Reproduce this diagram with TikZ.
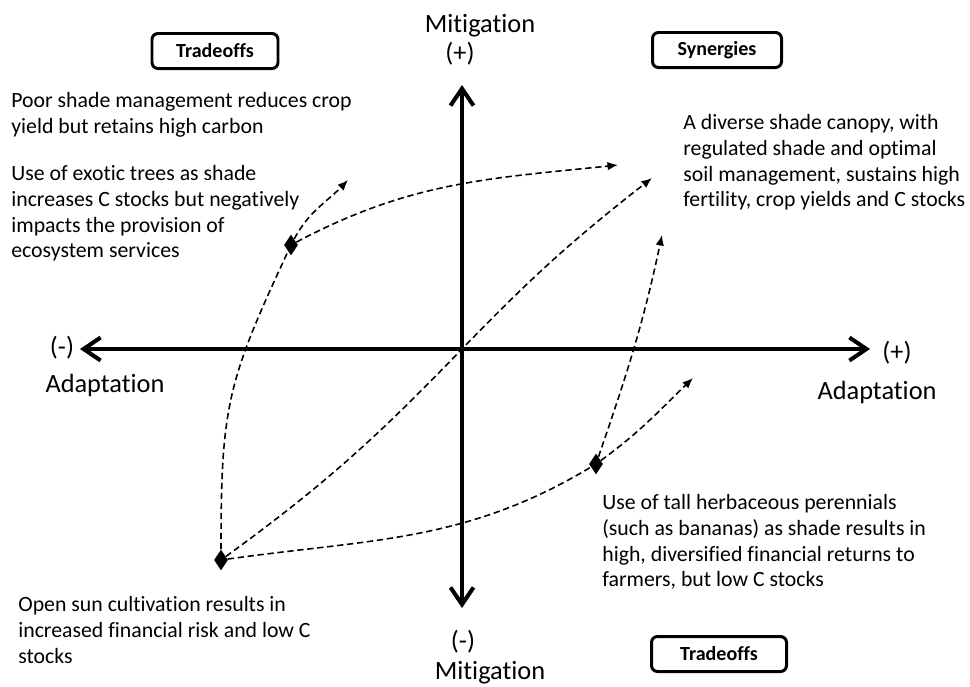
\documentclass[tikz,border=0pt]{standalone}
\usepackage{fontspec}
\setmainfont{Carlito}[RawFeature={-liga}]
\usetikzlibrary{arrows.meta,shapes.geometric}

\begin{document}
\begin{tikzpicture}[x={(0.2mm, 0mm)}, y={(0mm, 0.2mm)}]
  \tikzstyle{axis}=[line width=2.3pt, {Straight Barb[length=3.4mm, width=4.6mm]}-{Straight Barb[length=3.4mm, width=4.6mm]}]
  \tikzstyle{link}=[line width=0.9pt, dash pattern=on 3.6pt off 2.1pt, -{Latex[length=2.1mm, width=1.7mm]}]
  \tikzstyle{dmd}=[diamond, fill=black, inner sep=0pt, minimum width=2.8mm, minimum height=4.2mm]
  \tikzstyle{quad}=[draw, line width=1.7pt, rounded corners=1.2mm, minimum height=7mm, font=\fontsize{11.4}{13}\selectfont\bfseries]
  \tikzstyle{note}=[align=left, inner sep=0pt, anchor=north west, font=\fontsize{12.4}{14.7}\selectfont]
  \tikzstyle{axlab}=[inner sep=0pt, font=\fontsize{15}{18}\selectfont]

\useasboundingbox (0,0) rectangle (970,-686);

\coordinate (o) at (462,-349);
\coordinate (west) at (80,-349);
\coordinate (east) at (870,-349);
\coordinate (north) at (462,-85);
\coordinate (south) at (462,-608);
\draw[axis] (west) -- (east);
\draw[axis] (south) -- (north);

\node[axlab, anchor=base] (mtop) at (480,-32) {Mitigation};
\node[axlab, anchor=base] (ptop) at (460,-61) {(+)};
\node[axlab, anchor=base] (nbot) at (463,-649) {(-)};
\node[axlab, anchor=base] (mbot) at (490,-679) {Mitigation};
\node[axlab] (nleft) at (62,-348) {(-)};
\node[axlab] (aleft) at (105,-385) {Adaptation};
\node[axlab] (pright) at (897,-353) {(+)};
\node[axlab] (aright) at (877,-392) {Adaptation};

\node[quad, minimum width=25.2mm] (trade1) at (215,-51) {Tradeoffs};
\node[quad, minimum width=25.8mm] (syn) at (717,-50) {Synergies};
\node[quad, minimum width=27mm] (trade2) at (719,-654) {Tradeoffs};

\node[note] (poor) at (11,-92) {Poor shade management reduces crop\\yield but retains high carbon};
\node[note] (exotic) at (11,-165) {Use of exotic trees as shade\\increases C stocks but negatively\\impacts the provision of\\ecosystem services};
\node[note] (diverse) at (683,-114) {A diverse shade canopy, with\\regulated shade and optimal\\soil management, sustains high\\fertility, crop yields and C stocks};
\node[note] (tall) at (602,-494) {Use of tall herbaceous perennials\\(such as bananas) as shade results in\\high, diversified financial returns to\\farmers, but low C stocks};
\node[note] (open) at (18,-596) {Open sun cultivation results in\\increased financial risk and low C\\stocks};

\node[dmd] (d1) at (291,-245) {};
\node[dmd] (d2) at (596,-464) {};
\node[dmd] (d3) at (221,-560) {};
\coordinate (e1) at (348,-180);
\coordinate (e2) at (618,-165);
\coordinate (e3) at (652,-178);
\coordinate (e4) at (662,-235);
\coordinate (e5) at (693,-378);

\draw[link] (d1) to[out=62, in=226] (e1);
\draw[link] (d1) to[out=28, in=186] (e2);
\draw[link, -] (d3) to[out=90, in=245, looseness=1.2] (d1);
\draw[link] (d3) to[out=36, in=226] (o) to[out=46, in=218] (e3);
\draw[link, -] (d3) to[out=8, in=211] (d2);
\draw[link] (d2) to[out=71, in=258] (e4);
\draw[link] (d2) to[out=36, in=224] (e5);
\end{tikzpicture}
\end{document}
